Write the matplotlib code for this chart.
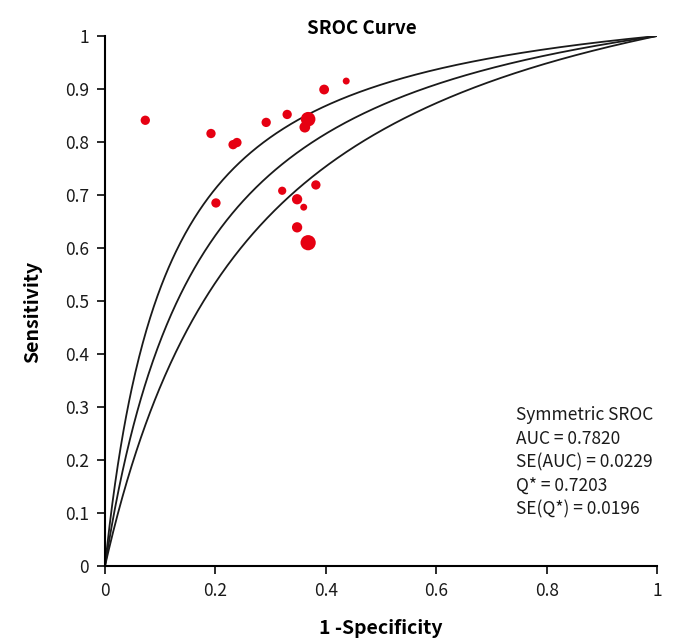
import numpy as np
import matplotlib
matplotlib.use("Agg")
import matplotlib.pyplot as plt

# Study points (1-specificity, sensitivity, marker size)
fpr = [0.073, 0.192, 0.232, 0.239, 0.292, 0.330, 0.368, 0.362, 0.397, 0.437,
       0.201, 0.321, 0.348, 0.360, 0.382, 0.348, 0.368]
sens = [0.841, 0.816, 0.795, 0.799, 0.837, 0.852, 0.843, 0.828, 0.899, 0.915,
        0.685, 0.708, 0.692, 0.677, 0.719, 0.639, 0.610]
sizes = [45, 45, 45, 45, 45, 45, 110, 60, 50, 25,
         45, 35, 55, 25, 45, 55, 120]

# Symmetric SROC fit
q_star = 0.7203
se_q = 0.0196
q_values = [q_star + 1.96 * se_q, q_star, q_star - 1.96 * se_q]

xticks = [0, 0.2, 0.4, 0.6, 0.8, 1]
xticklabels = ["0", "0.2", "0.4", "0.6", "0.8", "1"]
yticks = [0, 0.1, 0.2, 0.3, 0.4, 0.5, 0.6, 0.7, 0.8, 0.9, 1]
yticklabels = ["0", "0.1", "0.2", "0.3", "0.4", "0.5", "0.6", "0.7", "0.8", "0.9", "1"]

stats_text = ["Symmetric SROC", "AUC = 0.7820", "SE(AUC) = 0.0229",
              "Q* = 0.7203", "SE(Q*) = 0.0196"]

plt.rcParams['font.family'] = ['Noto Sans CJK KR', 'DejaVu Sans']

fig = plt.figure(figsize=(6.84, 6.41), dpi=100)
ax = fig.add_axes([105/684, 75/641, 552/684, 530/641])

x = np.linspace(1e-6, 1 - 1e-6, 600)
for q in q_values:
    a = 2 * np.log(q / (1 - q))
    odds = x / (1 - x) * np.exp(a)
    y = odds / (1 + odds)
    ax.plot(np.concatenate([[0], x, [1]]), np.concatenate([[0], y, [1]]),
            color="#1a1a1a", lw=1.3, zorder=2)

ax.scatter(fpr, sens, s=sizes, color="#e60012", edgecolors="none", zorder=3)

ax.set_xlim(0, 1)
ax.set_ylim(0, 1)
ax.spines['top'].set_visible(False)
ax.spines['right'].set_visible(False)
ax.spines['left'].set_linewidth(1.5)
ax.spines['bottom'].set_linewidth(1.5)
ax.set_xticks(xticks)
ax.set_xticklabels(xticklabels)
ax.set_yticks(yticks)
ax.set_yticklabels(yticklabels)
ax.tick_params(axis='both', direction='out', length=5.5, width=1.3,
               labelsize=12.5, colors="#1a1a1a")
ax.tick_params(axis='x', pad=6)
ax.tick_params(axis='y', pad=6)
for lab in ax.get_xticklabels() + ax.get_yticklabels():
    lab.set_fontweight('light')

ax.set_xlabel("1 -Specificity", fontsize=14, fontweight='bold', labelpad=14)
ax.set_ylabel("Sensitivity", fontsize=14, fontweight='bold')
ax.yaxis.set_label_coords(-0.114, 0.48)
fig.text(362/684, 1 - 28/641, "SROC Curve", ha='center', va='center',
         fontsize=13.5, fontweight='bold')

for i, t in enumerate(stats_text):
    ax.text(0.745, 0.285 - i * 0.0445, t, fontsize=12.5, fontweight='light',
            va='center', ha='left', color="#1a1a1a")

fig.savefig("out.png", dpi=100)
